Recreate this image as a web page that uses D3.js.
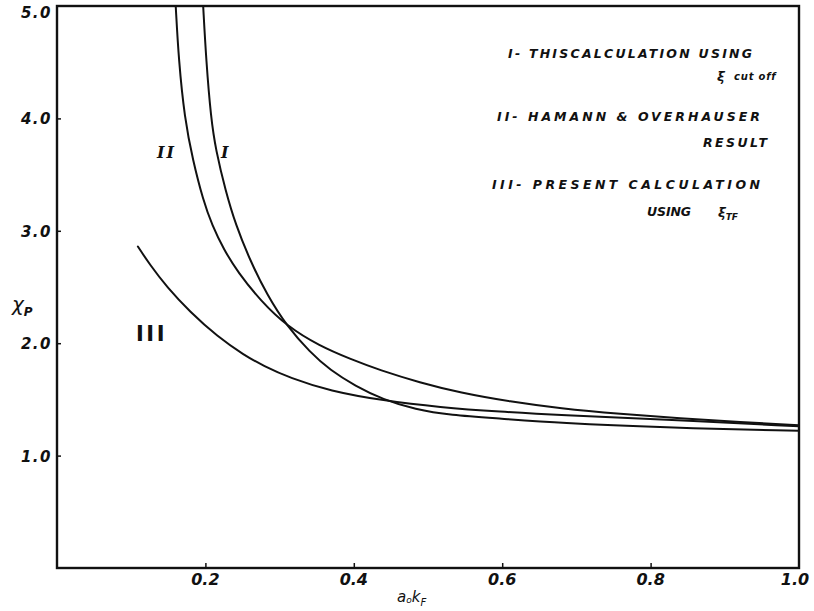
<!DOCTYPE html>
<html lang="en">
<head>
    <meta charset="UTF-8" />
    <title>Pauli susceptibility vs a0kF</title>
    <script src="https://d3js.org/d3.v7.min.js"></script>
    <style>
        body { margin: 0; background: #fff; }
        svg text { font-family: "DejaVu Sans", sans-serif; fill: #111; }
        .tick-label { font-size: 15px; font-weight: bold; font-style: italic; }
        .legend text { font-size: 12.5px; font-weight: bold; font-style: italic; }
        .curve-label { font-family: "DejaVu Serif", serif; font-size: 16px; font-style: italic; font-weight: bold; }
    </style>
</head>
<body>
<svg id="chart" width="814" height="611"></svg>
<script>
    // values
    const xTicks = [0.2, 0.4, 0.6, 0.8, 1.0];
    const yTicks = [1.0, 2.0, 3.0, 4.0, 5.0];

    // I - this calculation using xi cut off
    const curveI = [
        [0.197, 5.0], [0.201, 4.52], [0.2075, 4.0], [0.214, 3.72], [0.227, 3.36],
        [0.241, 3.05], [0.260, 2.74], [0.283, 2.43], [0.310, 2.15], [0.341, 1.92],
        [0.368, 1.76], [0.402, 1.62], [0.439, 1.50], [0.483, 1.41], [0.530, 1.36],
        [0.597, 1.33], [0.678, 1.29], [0.813, 1.25], [1.0, 1.22]
    ];
    // II - Hamann & Overhauser result
    const curveII = [
        [0.160, 5.0], [0.164, 4.52], [0.172, 4.0], [0.183, 3.63], [0.197, 3.27],
        [0.209, 3.05], [0.225, 2.83], [0.244, 2.63], [0.274, 2.38], [0.310, 2.15],
        [0.354, 1.975], [0.395, 1.86], [0.435, 1.76], [0.489, 1.65], [0.543, 1.56],
        [0.611, 1.48], [0.678, 1.42], [0.759, 1.37], [0.840, 1.33], [0.921, 1.30],
        [1.0, 1.27]
    ];
    // III - present calculation using xi TF
    const curveIII = [
        [0.109, 2.86], [0.125, 2.70], [0.148, 2.50], [0.179, 2.28], [0.216, 2.06],
        [0.253, 1.89], [0.278, 1.80], [0.314, 1.69], [0.368, 1.575], [0.439, 1.49],
        [0.516, 1.43], [0.597, 1.39], [0.678, 1.36], [0.813, 1.325], [1.0, 1.26]
    ];

    const legendLines = [
        "I- THISCALCULATION USING",
        "cut off",
        "II- HAMANN & OVERHAUSER",
        "RESULT",
        "III- PRESENT CALCULATION",
        "USING"
    ];

    const svg = d3.select("#chart");
    const x = d3.scaleLinear().domain([0, 1]).range([57, 799]);
    const y = d3.scaleLinear().domain([0, 5]).range([568, 6]);

    // frame
    svg.append("rect")
        .attr("x", x(0)).attr("y", y(5))
        .attr("width", x(1) - x(0)).attr("height", y(0) - y(5))
        .attr("fill", "none").attr("stroke", "#111").attr("stroke-width", 2.4);

    // axes: small ticks pointing inward
    const xAxis = d3.axisTop(x).tickValues(xTicks.slice(0, 4)).tickSize(5).tickFormat("");
    svg.append("g").attr("transform", `translate(0,${y(0)})`).call(xAxis)
        .call(g => g.select(".domain").remove())
        .selectAll("line").attr("stroke", "#111").attr("stroke-width", 1.5);

    const yAxis = d3.axisRight(y).tickValues(yTicks.slice(0, 4)).tickSize(4).tickFormat("");
    svg.append("g").attr("transform", `translate(${x(0)},0)`).call(yAxis)
        .call(g => g.select(".domain").remove())
        .selectAll("line").attr("stroke", "#111").attr("stroke-width", 1.5);

    svg.append("g").selectAll("text")
        .data(xTicks).enter().append("text")
        .attr("class", "tick-label")
        .style("font-size", "16px")
        .attr("x", d => x(d) + (d === 1.0 ? -4 : 0))
        .attr("y", 585)
        .attr("text-anchor", "middle")
        .text(d => d.toFixed(1));

    svg.append("g").selectAll("text")
        .data(yTicks).enter().append("text")
        .attr("class", "tick-label")
        .attr("x", 52)
        .attr("y", d => d === 5.0 ? 18 : y(d) + 6)
        .attr("text-anchor", "end")
        .attr("letter-spacing", 1.5)
        .text(d => d.toFixed(1));

    // axis titles
    const yt = svg.append("text").attr("x", 12).attr("y", 311)
        .attr("font-size", 20).attr("font-style", "italic");
    yt.append("tspan").text("χ");
    yt.append("tspan").attr("dy", 5).attr("font-size", 12).attr("font-weight", "bold").text("P");

    const xt = svg.append("text").attr("x", 397).attr("y", 602)
        .attr("font-size", 15).attr("font-style", "italic");
    xt.append("tspan").text("a");
    xt.append("tspan").attr("dy", 1).attr("font-size", 9).text("o");
    xt.append("tspan").attr("dy", -1).text("k");
    xt.append("tspan").attr("dy", 4).attr("font-size", 10).text("F");

    // curves
    const line = d3.line()
        .x(d => x(d[0])).y(d => y(d[1]))
        .curve(d3.curveBasis);

    [curveI, curveII, curveIII].forEach(c => {
        svg.append("path").datum(c)
            .attr("d", line)
            .attr("fill", "none")
            .attr("stroke", "#111")
            .attr("stroke-width", 2)
            .attr("stroke-linecap", "round");
    });

    // curve labels
    svg.append("text").attr("class", "curve-label").attr("x", 157).attr("y", 158)
        .attr("letter-spacing", 2).text("II");
    svg.append("text").attr("class", "curve-label").attr("x", 221).attr("y", 158).text("I");
    svg.append("text").attr("x", 136).attr("y", 341)
        .attr("font-family", "Liberation Mono, monospace").attr("font-size", 21)
        .attr("font-weight", "bold").attr("letter-spacing", 2.5).text("III");

    // legend text
    const lg = svg.append("g").attr("class", "legend");
    const put = (txt, x0, y0, w) => lg.append("text").attr("x", x0).attr("y", y0)
        .attr("textLength", w).attr("lengthAdjust", "spacing").text(txt);
    put(legendLines[0], 508, 58, 244);
    lg.append("text").attr("x", 717).attr("y", 81).style("font-size", "13px").text("ξ");
    lg.append("text").attr("x", 734).attr("y", 80).style("font-size", "10px")
        .attr("letter-spacing", 0.8).text(legendLines[1]);
    put(legendLines[2], 497, 121, 263);
    put(legendLines[3], 703, 147, 64);
    put(legendLines[4], 492, 189, 268);
    put(legendLines[5], 647, 216, 44);
    const tf = lg.append("text").attr("x", 718).attr("y", 217).style("font-size", "13px");
    tf.append("tspan").text("ξ");
    tf.append("tspan").attr("dy", 3).style("font-size", "9px").text("TF");
</script>
</body>
</html>
